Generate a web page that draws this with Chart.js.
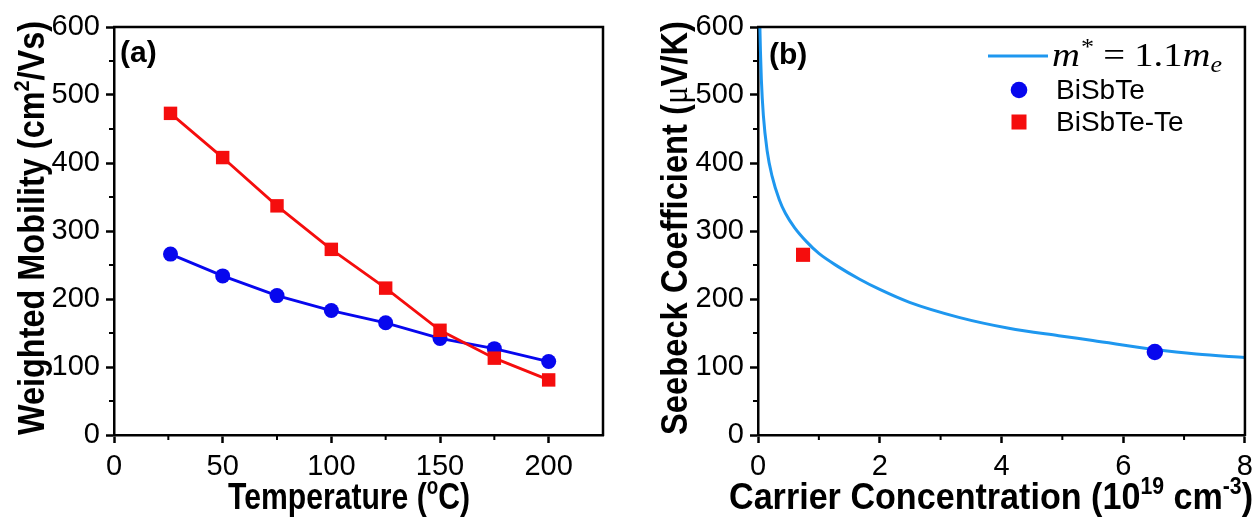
<!DOCTYPE html>
<html><head><meta charset="utf-8">
<script src="https://cdn.jsdelivr.net/npm/chart.js@4.4.1/dist/chart.umd.min.js"></script>
<style>
html,body{margin:0;padding:0;background:#fff;}
#wrap{position:relative;width:1260px;height:518px;overflow:hidden;background:#fff;}
#b1{position:absolute;left:0;top:0;width:630px;height:518px;}
#b2{position:absolute;left:630px;top:0;width:630px;height:518px;}
</style></head><body>
<div id="wrap">
  <div id="b1"><canvas id="c1"></canvas></div>
  <div id="b2"><canvas id="c2"></canvas></div>
</div>
<script>
// ---------- data: panel (a) ----------
const temperatures      = [26, 50, 75, 100, 125, 150, 175, 200];
const mobilityBiSbTe    = [266, 234, 205, 183, 165, 142, 127, 108];
const mobilityBiSbTeTe  = [473, 408, 337, 273, 216, 154, 113, 81];
const tempMajorTicks    = [0, 50, 100, 150, 200];
const tempMinorTicks    = [25, 75, 125, 175];
const mobilityMajorTicks = [0, 100, 200, 300, 400, 500, 600];
const mobilityMinorTicks = [50, 150, 250, 350, 450, 550];

// ---------- data: panel (b) ----------
const curveCarrier  = [0.03, 0.04, 0.055, 0.088, 0.15, 0.23, 0.35, 0.45, 0.60, 0.80, 1.0, 1.31, 1.67, 2.0, 2.49, 3.3, 4.12, 4.94, 5.5, 6.5, 7.2, 8.0];
const curveSeebeck  = [603, 565, 523, 470, 418, 381, 346, 326, 305, 284, 267, 248, 229, 214, 195, 173, 157, 146, 139, 126, 119, 114];
const carrierBiSbTe   = [6.52];
const seebeckBiSbTe   = [122];
const carrierBiSbTeTe = [0.74];
const seebeckBiSbTeTe = [265];
const carrierMajorTicks = [0, 2, 4, 6, 8];
const carrierMinorTicks = [1, 3, 5, 7];
const seebeckMajorTicks = [0, 100, 200, 300, 400, 500, 600];
const seebeckMinorTicks = [50, 150, 250, 350, 450, 550];

const legendLabels = ['BiSbTe', 'BiSbTe-Te'];

const RED = '#f50d0d', BLUE = '#0707ee', CYAN = '#1e97ef';
const SANS = '"Liberation Sans", Arial, sans-serif';

function pts(xs, ys) { return xs.map((x, i) => ({x: x, y: ys[i]})); }

// rich (super-scripted) title text, compressed to a target length
function drawRich(ctx, parts, cx, cy, targetLen, rotated, size) {
  ctx.save();
  const base = 'bold ' + size + 'px ' + SANS;
  const sup = 'bold ' + Math.round(size * 0.62) + 'px ' + SANS;
  let w = 0;
  parts.forEach(p => { ctx.font = p.f || (p.s ? sup : base); p.w = ctx.measureText(p.t).width; w += p.w; });
  const k = targetLen / w;
  ctx.translate(cx, cy);
  if (rotated) ctx.rotate(-Math.PI / 2);
  ctx.scale(k, 1);
  ctx.fillStyle = '#000';
  ctx.textBaseline = 'alphabetic';
  ctx.textAlign = 'left';
  const bl = size * 0.358;
  let x = -w / 2;
  parts.forEach(p => {
    ctx.font = p.f || (p.s ? sup : base);
    ctx.fillText(p.t, x, bl + (p.s ? -size * 0.40 : 0));
    x += p.w;
  });
  ctx.restore();
}

const frameAndMinor = {
  id: 'frameAndMinor',
  afterDraw(chart, args, opts) {
    const ctx = chart.ctx, a = chart.chartArea;
    const sx = chart.scales.x, sy = chart.scales.y;
    ctx.save();
    ctx.strokeStyle = '#000';
    ctx.lineWidth = 2;
    ctx.beginPath();
    opts.xMinor.forEach(v => { const p = sx.getPixelForValue(v); ctx.moveTo(p, a.bottom); ctx.lineTo(p, a.bottom + 5); });
    opts.yMinor.forEach(v => { const p = sy.getPixelForValue(v); ctx.moveTo(a.left, p); ctx.lineTo(a.left - 5, p); });
    ctx.stroke();
    ctx.lineWidth = 2.5;
    ctx.beginPath();
    ctx.moveTo(a.left - 1, a.top); ctx.lineTo(a.right, a.top); ctx.lineTo(a.right, a.bottom + 1);
    ctx.stroke();
    ctx.fillStyle = '#000';
    ctx.font = 'bold 30px ' + SANS;
    ctx.textBaseline = 'middle';
    ctx.textAlign = 'left';
    ctx.fillText(opts.letter, opts.lx, opts.ly);
    ctx.restore();
    // axis titles
    drawRich(ctx, opts.xTitle, opts.xt[0], opts.xt[1], opts.xt[2], false, 37);
    drawRich(ctx, opts.yTitle, opts.yt[0], opts.yt[1], opts.yt[2], true, 36);
  }
};

const legendPlugin = {
  id: 'mathLegend',
  afterDraw(chart, args, opts) {
    if (!opts.show) return;
    const ctx = chart.ctx;
    ctx.save();
    ctx.strokeStyle = CYAN; ctx.lineWidth = 3;
    ctx.beginPath(); ctx.moveTo(358, 56); ctx.lineTo(418, 56); ctx.stroke();
    const SER = '"Liberation Serif", serif';
    const parts = [
      {t: 'm',   f: 'italic 34px ' + SER, dy: 0, gap: 0},
      {t: '*',   f: '23px ' + SER, dy: -12, gap: 1},
      {t: '=',   f: '34px ' + SER, dy: 0, gap: 8},
      {t: '1.1', f: '34px ' + SER, dy: 0, gap: 8},
      {t: 'm',   f: 'italic 34px ' + SER, dy: 0, gap: 0},
      {t: 'e',   f: 'italic 23px ' + SER, dy: 6, gap: 0}
    ];
    let total = 0;
    parts.forEach(p => { ctx.font = p.f; p.w = ctx.measureText(p.t).width; total += p.gap + p.w; });
    const sc = 170 / total;
    ctx.translate(422, 66);
    ctx.scale(sc, 1);
    ctx.fillStyle = '#000';
    ctx.textBaseline = 'alphabetic';
    ctx.textAlign = 'left';
    let x = 0;
    parts.forEach(p => { x += p.gap; ctx.font = p.f; ctx.fillText(p.t, x, p.dy); x += p.w; });
    ctx.restore();
    ctx.save();
    ctx.fillStyle = BLUE;
    ctx.beginPath(); ctx.arc(389, 90, 8.3, 0, Math.PI * 2); ctx.fill();
    ctx.fillStyle = RED;
    ctx.fillRect(389 - 7.5, 122 - 7.5, 15, 15);
    ctx.fillStyle = '#000';
    ctx.font = '28px ' + SANS;
    ctx.textBaseline = 'middle';
    ctx.textAlign = 'left';
    ctx.fillText(legendLabels[0], 426, 91);
    ctx.fillText(legendLabels[1], 426, 123);
    ctx.restore();
  }
};

function axisX(min, max, majors) {
  return {
    type: 'linear', min: min, max: max, position: 'bottom',
    afterFit: s => { s.height = 83; },
    afterBuildTicks: s => { s.ticks = majors.map(v => ({value: v})); },
    border: {display: true, color: '#000', width: 2.5},
    grid: {drawOnChartArea: false, drawTicks: true, tickLength: 8, tickWidth: 2.5, tickColor: '#000', color: '#000'},
    ticks: {color: '#000', font: {family: SANS, size: 29}, padding: 7, maxRotation: 0, autoSkip: false},
    title: {display: false}
  };
}
function axisY(min, max, majors, width) {
  return {
    type: 'linear', min: min, max: max, position: 'left',
    afterFit: s => { s.width = width; },
    afterBuildTicks: s => { s.ticks = majors.map(v => ({value: v})); },
    border: {display: true, color: '#000', width: 2.5},
    grid: {drawOnChartArea: false, drawTicks: true, tickLength: 8, tickWidth: 2.5, tickColor: '#000', color: '#000'},
    ticks: {color: '#000', font: {family: SANS, size: 29}, padding: 6, autoSkip: false},
    title: {display: false}
  };
}

Chart.defaults.animation = false;

new Chart(document.getElementById('c1'), {
  type: 'scatter',
  data: {
    datasets: [
      {label: 'BiSbTe-Te', data: pts(temperatures, mobilityBiSbTeTe), showLine: true, borderColor: RED, backgroundColor: RED,
       borderWidth: 2.8, pointStyle: 'rect', pointRadius: 9.5, pointBorderWidth: 0, pointBackgroundColor: RED, order: 0},
      {label: 'BiSbTe', data: pts(temperatures, mobilityBiSbTe), showLine: true, borderColor: BLUE, backgroundColor: BLUE,
       borderWidth: 2.8, pointStyle: 'circle', pointRadius: 7.5, pointBorderWidth: 0, pointBackgroundColor: BLUE, order: 1}
    ]
  },
  options: {
    responsive: true, maintainAspectRatio: false, animation: false,
    layout: {padding: {top: 27, right: 27, left: 0, bottom: 0}},
    plugins: {legend: {display: false}, tooltip: {enabled: false},
      frameAndMinor: {xMinor: tempMinorTicks, yMinor: mobilityMinorTicks, letter: '(a)', lx: 120, ly: 54,
        xTitle: [{t: 'Temperature ('}, {t: 'o', s: 1}, {t: 'C)'}], xt: [349, 496, 242],
        yTitle: [{t: 'Weighted Mobility (cm'}, {t: '2', s: 1}, {t: '/Vs)'}], yt: [31, 228, 414]}},
    scales: {
      x: axisX(0, 225, tempMajorTicks),
      y: axisY(0, 600, mobilityMajorTicks, 114)
    }
  },
  plugins: [frameAndMinor]
});

new Chart(document.getElementById('c2'), {
  type: 'scatter',
  data: {
    datasets: [
      {label: 'BiSbTe', data: pts(carrierBiSbTe, seebeckBiSbTe), showLine: false, backgroundColor: BLUE, borderColor: BLUE,
       pointStyle: 'circle', pointRadius: 8.2, pointBorderWidth: 0, order: 0},
      {label: 'BiSbTe-Te', data: pts(carrierBiSbTeTe, seebeckBiSbTeTe), showLine: false, backgroundColor: RED, borderColor: RED,
       pointStyle: 'rect', pointRadius: 10, pointBorderWidth: 0, order: 0},
      {label: 'm* = 1.1 me', data: pts(curveCarrier, curveSeebeck), showLine: true, borderColor: CYAN, backgroundColor: CYAN,
       borderWidth: 3, pointRadius: 0, cubicInterpolationMode: 'monotone', order: 2}
    ]
  },
  options: {
    responsive: true, maintainAspectRatio: false, animation: false,
    layout: {padding: {top: 27, right: 13, left: 0, bottom: 0}},
    plugins: {legend: {display: false}, tooltip: {enabled: false},
      frameAndMinor: {xMinor: carrierMinorTicks, yMinor: seebeckMinorTicks, letter: '(b)', lx: 139, ly: 56,
        xTitle: [{t: 'Carrier Concentration (10'}, {t: '19', s: 1}, {t: ' cm'}, {t: '-3', s: 1}, {t: ')'}], xt: [361, 496, 524],
        yTitle: [{t: 'Seebeck Coefficient ('}, {t: 'μ', f: '36px "Liberation Serif", serif'}, {t: 'V/K)'}], yt: [44, 228, 414]},
      mathLegend: {show: true}},
    scales: {
      x: axisX(0, 8, carrierMajorTicks),
      y: axisY(0, 600, seebeckMajorTicks, 128)
    }
  },
  plugins: [frameAndMinor, legendPlugin]
});
</script>
</body></html>
